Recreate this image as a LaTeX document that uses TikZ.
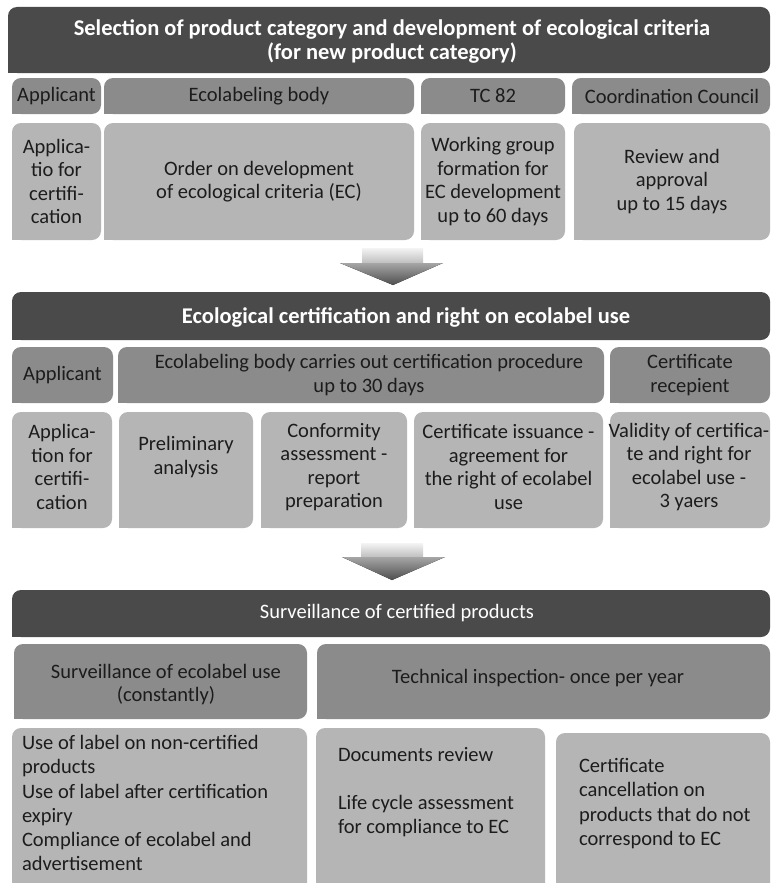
\documentclass[tikz,border=0pt]{standalone}
\usepackage{fontspec}
\setmainfont{Carlito}
\usetikzlibrary{calc}
\definecolor{hdr}{HTML}{4A4A4A}
\definecolor{lbl}{HTML}{8B8B8B}
\definecolor{cnt}{HTML}{B5B5B5}
\definecolor{ink}{HTML}{1C1C1C}
\definecolor{arrlight}{HTML}{F4F4F4}
\definecolor{arrmid}{HTML}{BDBDBD}
\definecolor{arrhead}{HTML}{A6A6A6}
\definecolor{arrdark}{HTML}{4E4E4E}
\newcommand{\myfs}{\fontsize{20.5}{23.5}\selectfont}
\newcommand{\myfsb}{\fontsize{22.5}{24}\selectfont\bfseries}
\newcommand{\myfsc}{\fontsize{20.5}{24.2}\selectfont}
% square off the bottom-left corner of a rounded panel
\newcommand{\sqbl}[2]{\fill[#2] (#1.south west) rectangle ++(10,-10);}
\tikzset{
  panel/.style={rounded corners=9pt, inner sep=0pt, outer sep=0pt, align=center, text=ink, font=\myfs},
  hdrbox/.style={panel, fill=hdr},
  lblbox/.style={panel, fill=lbl},
  cntbox/.style={panel, fill=cnt},
  txt/.style={inner sep=0pt, outer sep=0pt, align=center, text=ink, font=\myfs},
  hdrtxt/.style={txt, text=white, font=\myfsb},
  listtxt/.style={inner sep=0pt, outer sep=0pt, align=left, text=ink, font=\myfsc, anchor=north west},
  shaftfill/.style={top color=arrlight, bottom color=arrmid},
  headfill/.style={top color=arrhead, bottom color=arrdark},
}
\begin{document}
\begin{tikzpicture}[x=1pt,y=-1pt]
\useasboundingbox (0,0) rectangle (771,883);
\clip (0,0) rectangle (771,883);
\fill[white] (0,0) rectangle (771,883);

% ---------- Section 1 ----------
\node[hdrbox, minimum width=762pt, minimum height=66pt] (H1) at (389,40) {};
\sqbl{H1}{hdr}
\node[hdrtxt] (H1t) at (392,41) {Selection of product category and development of ecological criteria\\(for new product category)};

\node[lblbox, minimum width=89pt, minimum height=36pt] (L1a) at (56.5,96) {};
\node[lblbox, minimum width=310pt, minimum height=36pt] (L1b) at (259,96) {};
\node[lblbox, minimum width=144pt, minimum height=36pt] (L1c) at (493,96) {};
\node[lblbox, minimum width=198pt, minimum height=36pt] (L1d) at (671,96) {};
\sqbl{L1a}{lbl}\sqbl{L1b}{lbl}\sqbl{L1c}{lbl}\sqbl{L1d}{lbl}
\node[txt] (L1at) at (L1a) {Applicant};
\node[txt] (L1bt) at (L1b) {Ecolabeling body};
\node[txt] (L1ct) at (L1c) {TC 82};
\node[txt] (L1dt) at (672,96) {Coordination Council};

\node[cntbox, minimum width=89pt, minimum height=117pt] (C1a) at (56.5,181.5) {};
\node[cntbox, minimum width=310pt, minimum height=117pt] (C1b) at (259,181.5) {};
\node[cntbox, minimum width=144pt, minimum height=117pt] (C1c) at (493,181.5) {};
\node[cntbox, minimum width=196pt, minimum height=117pt] (C1d) at (672,181.5) {};
\sqbl{C1a}{cnt}\sqbl{C1b}{cnt}\sqbl{C1c}{cnt}\sqbl{C1d}{cnt}
\node[txt] (C1at) at (C1a) {Applica-\\tio for\\certifi-\\cation};
\node[txt] (C1bt) at (C1b) {Order on development\\of ecological criteria (EC)};
\node[txt] (C1ct) at (C1c) {Working group\\formation for\\EC development\\up to 60 days};
\node[txt] (C1dt) at (C1d) {Review and\\approval\\up to 15 days};

% arrow 1
\fill[shaftfill] (362,248) rectangle (423,263.5);
\fill[headfill] (340,263) -- (443,263) -- (393,285) -- cycle;

% ---------- Section 2 ----------
\node[hdrbox, minimum width=758pt, minimum height=48pt] (H2) at (391,316) {};
\sqbl{H2}{hdr}
\node[hdrtxt] (H2t) at (406,317) {Ecological certification and right on ecolabel use};

\node[lblbox, minimum width=101pt, minimum height=56pt] (L2a) at (62.5,375) {};
\node[lblbox, minimum width=486pt, minimum height=56pt] (L2b) at (361,375) {};
\node[lblbox, minimum width=160pt, minimum height=56pt] (L2c) at (690,375) {};
\sqbl{L2a}{lbl}\sqbl{L2b}{lbl}\sqbl{L2c}{lbl}
\node[txt] (L2at) at (L2a) {Applicant};
\node[txt] (L2bt) at (369,375) {Ecolabeling body carries out certification procedure\\up to 30 days};
\node[txt] (L2ct) at (L2c) {Certificate\\recepient};

\node[cntbox, minimum width=100pt, minimum height=116pt] (C2a) at (62,470) {};
\node[cntbox, minimum width=134pt, minimum height=116pt] (C2b) at (186,470) {};
\node[cntbox, minimum width=146pt, minimum height=116pt] (C2c) at (334,470) {};
\node[cntbox, minimum width=189pt, minimum height=116pt] (C2d) at (508.5,470) {};
\node[cntbox, minimum width=160pt, minimum height=116pt] (C2e) at (690,470) {};
\sqbl{C2a}{cnt}\sqbl{C2b}{cnt}\sqbl{C2c}{cnt}\sqbl{C2d}{cnt}\sqbl{C2e}{cnt}
\node[txt] (C2at) at (62,467) {Applica-\\tion for\\certifi-\\cation};
\node[txt] (C2bt) at (186,457) {Preliminary\\analysis};
\node[txt] (C2ct) at (334,467) {Conformity\\assessment -\\report\\preparation};
\node[txt] (C2dt) at (508.5,467) {Certificate issuance -\\agreement for\\the right of ecolabel\\use};
\node[txt] (C2et) at (689,467) {Validity of certifica-\\te and right for\\ecolabel use -\\3 yaers};

% arrow 2
\fill[shaftfill] (361,543) rectangle (423,557.5);
\fill[headfill] (342,557) -- (445,557) -- (392,580) -- cycle;

% ---------- Section 3 ----------
\node[hdrbox, minimum width=758pt, minimum height=47pt] (H3) at (391,613.5) {};
\sqbl{H3}{hdr}
\node[txt, text=white] (H3t) at (397,613) {Surveillance of certified products};

\node[lblbox, minimum width=293pt, minimum height=75pt] (L3a) at (160.5,681.5) {};
\node[lblbox, minimum width=453pt, minimum height=75pt] (L3b) at (543.5,681.5) {};
\sqbl{L3a}{lbl}\sqbl{L3b}{lbl}
\node[txt] (L3at) at (166,684.5) {Surveillance of ecolabel use\\(constantly)};
\node[txt] (L3bt) at (538,678) {Technical inspection- once per year};

\node[cntbox, minimum width=295pt, minimum height=177pt] (C3a) at (159.5,816.5) {};
\node[cntbox, minimum width=229pt, minimum height=177pt] (C3b) at (430.5,816.5) {};
\node[cntbox, minimum width=214pt, minimum height=172pt] (C3c) at (663,819) {};
\node[listtxt] (C3at) at (22,735.5) {Use of label on non-certified\\products\\Use of label after certification\\expiry\\Compliance of ecolabel and\\advertisement};
\node[listtxt] (C3bt) at (338,747) {Documents review\\[24.2pt]Life cycle assessment\\for compliance to EC};
\node[listtxt] (C3ct) at (579,758.5) {Certificate\\cancellation on\\products that do not\\correspond to EC};
\end{tikzpicture}
\end{document}
